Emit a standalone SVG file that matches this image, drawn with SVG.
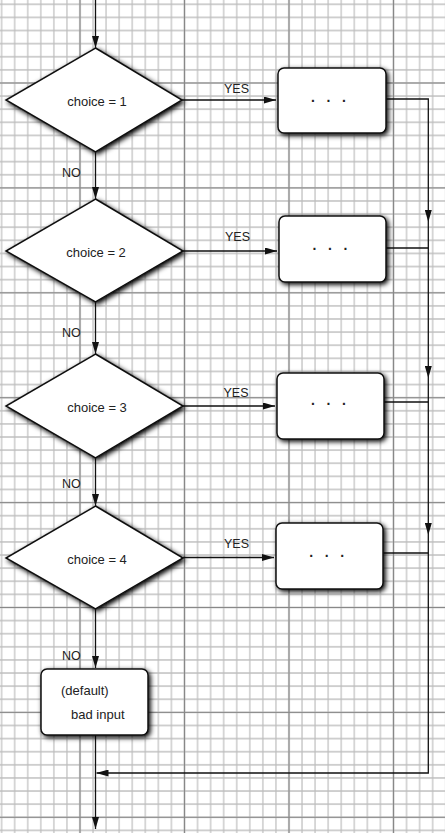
<svg xmlns="http://www.w3.org/2000/svg" width="445" height="833" viewBox="0 0 445 833">
<style>
.shape{fill:#fff;stroke:#111;stroke-width:1.5;filter:url(#sh)}
.lbl{font-family:"Liberation Sans",Arial,sans-serif;font-size:13px;fill:#222}
.dots{font-family:"Liberation Sans",Arial,sans-serif;font-size:14px;font-weight:bold;fill:#222}
.yn{font-family:"Liberation Sans",Arial,sans-serif;font-size:12.5px;fill:#222}
.conn{fill:none;stroke:#111;stroke-width:1.3}
.arr{marker-end:url(#ah)}
</style>
<defs>
<pattern id="minor" patternUnits="userSpaceOnUse" x="-4.93" y="-2.26" width="13.0625" height="13.1125">
<path d="M6.53 0V13.1125M0 6.56H13.0625" stroke="#bebebe" stroke-width="1.2" fill="none"/>
</pattern>
<pattern id="major" patternUnits="userSpaceOnUse" x="27.75" y="30.55" width="104.5" height="104.9">
<path d="M52.25 0V104.9M0 52.45H104.5" stroke="#888" stroke-width="1.2" fill="none"/>
</pattern>
<filter id="sh" x="-20%" y="-20%" width="140%" height="140%">
<feDropShadow dx="2" dy="2" stdDeviation="2.6" flood-color="#000" flood-opacity="1"/>
</filter>
<marker id="ah" markerUnits="userSpaceOnUse" viewBox="0 0 12 7" refX="12" refY="3.5" markerWidth="12" markerHeight="7" orient="auto">
<path d="M0 0L12 3.5L0 7z" fill="#111"/>
</marker>
</defs>
<rect width="445" height="833" fill="#fff"/>
<rect width="445" height="833" fill="url(#minor)"/>
<rect width="445" height="833" fill="url(#major)"/>

<g id="connectors">
<path class="conn arr" d="M95.5 0V48"/>
<path class="conn arr" d="M95.5 152V199"/>
<path class="conn arr" d="M95.5 302V354"/>
<path class="conn arr" d="M95.5 458V506"/>
<path class="conn arr" d="M95.5 609V668"/>
<path class="conn arr" d="M95.5 735V829"/>
<path class="conn arr" d="M182 100H276"/>
<path class="conn arr" d="M183 251H277"/>
<path class="conn arr" d="M183 406H275"/>
<path class="conn arr" d="M183 557.5H274"/>
<path class="conn arr" d="M386 99H428.3V222"/>
<path class="conn" d="M386 248H428.3"/>
<path class="conn arr" d="M428.3 222V378"/>
<path class="conn" d="M384 402H428.3"/>
<path class="conn arr" d="M428.3 378V535"/>
<path class="conn" d="M383 553H428.3"/>
<path class="conn arr" d="M428.3 535V773H96.5"/>
<text class="yn" x="224" y="92.5">YES</text>
<text class="yn" x="225" y="241">YES</text>
<text class="yn" x="223.5" y="396.5">YES</text>
<text class="yn" x="224" y="548">YES</text>
<text class="yn" x="62" y="176.7">NO</text>
<text class="yn" x="62" y="336.7">NO</text>
<text class="yn" x="62" y="488">NO</text>
<text class="yn" x="62" y="660">NO</text>
</g>

<g id="decision1">
<path class="shape" d="M95.5 48L182 100L95.5 152L6 100Z"/>
<text class="lbl" x="97" y="106" text-anchor="middle">choice = 1</text>
</g>
<g id="decision2">
<path class="shape" d="M95.5 199L183 251L95.5 302L6 251Z"/>
<text class="lbl" x="96" y="257" text-anchor="middle">choice = 2</text>
</g>
<g id="decision3">
<path class="shape" d="M95.5 354L183 406L95.5 458L6 406Z"/>
<text class="lbl" x="97" y="411.5" text-anchor="middle">choice = 3</text>
</g>
<g id="decision4">
<path class="shape" d="M95.5 506L183 558L95.5 609L6 558Z"/>
<text class="lbl" x="97" y="563.5" text-anchor="middle">choice = 4</text>
</g>

<g id="action1">
<rect class="shape" x="278" y="68" width="108" height="65" rx="6"/>
<text class="dots" x="328.5" y="102" text-anchor="middle" xml:space="preserve">.   .   .</text>
</g>
<g id="action2">
<rect class="shape" x="279" y="216" width="107" height="66" rx="6"/>
<text class="dots" x="330" y="250" text-anchor="middle" xml:space="preserve">.   .   .</text>
</g>
<g id="action3">
<rect class="shape" x="277" y="373" width="107" height="66" rx="6"/>
<text class="dots" x="328.5" y="405" text-anchor="middle" xml:space="preserve">.   .   .</text>
</g>
<g id="action4">
<rect class="shape" x="276" y="523" width="107" height="66" rx="6"/>
<text class="dots" x="326.7" y="557" text-anchor="middle" xml:space="preserve">.   .   .</text>
</g>
<g id="default">
<rect class="shape" x="41" y="669" width="107" height="66" rx="6"/>
<text class="lbl" x="61" y="695">(default)</text>
<text class="lbl" x="71" y="719">bad input</text>
</g>
</svg>
